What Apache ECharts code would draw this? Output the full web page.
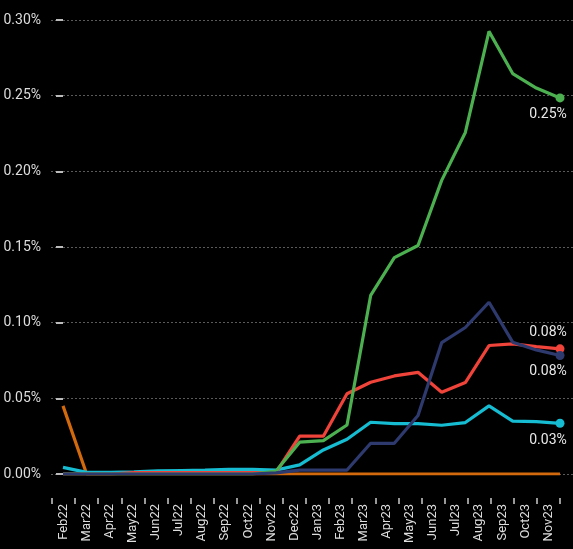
<!DOCTYPE html>
<html><head><meta charset="utf-8">
<script src="https://cdn.jsdelivr.net/npm/echarts@6/dist/echarts.min.js"></script>
<style>html,body{margin:0;padding:0;background:#000;}#c{width:573px;height:549px;}</style>
</head><body><div id="c"></div>
<script>
const categories = ['Feb22','Mar22','Apr22','May22','Jun22','Jul22','Aug22','Sep22','Oct22','Nov22','Dec22','Jan23','Feb23','Mar23','Apr23','May23','Jun23','Jul23','Aug23','Sep23','Oct23','Nov23'];
const yTicks = [0, 0.05, 0.10, 0.15, 0.20, 0.25, 0.30];
const orangeVals = [0.045,0,0,0,0,0,0,0,0,0,0,0,0,0,0,0,0,0,0,0,0,0];
const cyanVals   = [0.0044,0.0011,0.0011,0.0015,0.002,0.0023,0.0026,0.003,0.003,0.0026,0.006,0.0159,0.023,0.0342,0.0333,0.0333,0.0322,0.034,0.045,0.035,0.0346,0.0335];
const redVals    = [0,0,0,0.001,0.001,0.001,0.001,0.001,0.001,0.001,0.025,0.025,0.053,0.0606,0.0648,0.0672,0.054,0.0604,0.0849,0.086,0.0842,0.0827];
const greenVals  = [0,0,0,0,0,0,0,0,0,0.002,0.021,0.022,0.0324,0.118,0.143,0.151,0.194,0.2257,0.2925,0.2646,0.255,0.2485];
const navyVals   = [0,0,0,0,0,0,0,0,0,0.0007,0.0026,0.0026,0.0026,0.0203,0.0203,0.0386,0.0868,0.0968,0.1135,0.0871,0.082,0.0783];

const fontFam = 'Roboto, "DejaVu Sans", sans-serif';

function build(vals, color, endLabel) {
  const n = vals.length;
  const data = vals.map((v, i) => {
    if (i === n - 1 && endLabel) {
      return {value: [i, v], symbol: 'circle', symbolSize: 9,
        label: Object.assign({show: true, color: '#e8e8e8', fontSize: 14, fontFamily: fontFam,
          formatter: (p) => p.value[1].toFixed(2) + '%'}, endLabel)};
    }
    return {value: [i, v], symbol: 'none'};
  });
  return {type: 'line', xAxisIndex: 0, yAxisIndex: 0, data: data, showSymbol: true,
    lineStyle: {color: color, width: 3.2}, itemStyle: {color: color},
    emphasis: {disabled: true}, animation: false, silent: true};
}

const chart = echarts.init(document.getElementById('c'), null, {renderer: 'canvas'});
chart.setOption({
  backgroundColor: '#000',
  animation: false,
  grid: [
    {left: 51, right: 0, top: 20, bottom: 75},
    {left: 52, right: 13, top: 480, bottom: 51}
  ],
  xAxis: [
    {type: 'value', gridIndex: 0, min: -0.507, max: 21.549, show: false},
    {type: 'category', gridIndex: 1, data: categories, boundaryGap: true,
      axisLine: {show: false},
      axisTick: {show: true, length: 6, lineStyle: {color: '#cccccc', width: 1.5}},
      axisLabel: {rotate: 90, color: '#dddddd', fontSize: 13, fontFamily: fontFam, margin: 6, interval: 0}}
  ],
  yAxis: [
    {type: 'value', gridIndex: 0, min: 0, max: 0.3, interval: 0.05,
      axisLine: {show: false},
      axisTick: {show: true, length: 7, lineStyle: {color: '#bbbbbb', width: 2}},
      axisLabel: {color: '#dddddd', fontSize: 14, fontFamily: fontFam, margin: 10,
        formatter: (v) => v.toFixed(2) + '%'},
      splitLine: {show: true, lineStyle: {color: '#5a5a5a', width: 1, type: [2, 2]}}},
    {type: 'value', gridIndex: 1, show: false}
  ],
  series: [
    build(orangeVals, '#d2690c', null),
    build(cyanVals, '#16bcd1', {position: 'bottom', distance: 6, offset: [-12, 0]}),
    build(redVals, '#f0433a', {position: 'top', distance: 5, offset: [-12, 0]}),
    build(greenVals, '#4caf50', {position: 'bottom', distance: 5, offset: [-12, 0]}),
    build(navyVals, '#2e3a6e', {position: 'bottom', distance: 4, offset: [-12, 0]})
  ]
});
</script></body></html>
